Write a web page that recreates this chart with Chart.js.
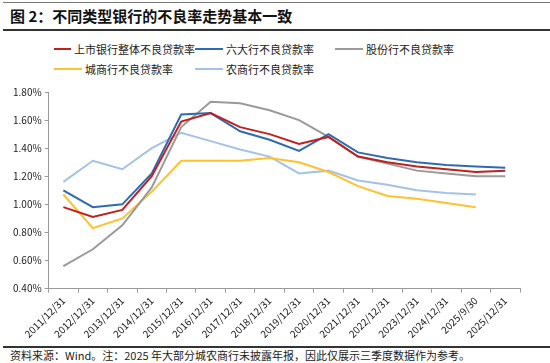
<!DOCTYPE html>
<html>
<head>
<meta charset="utf-8">
<script src="https://cdn.jsdelivr.net/npm/chart.js@4"></script>
<style>
  body { margin: 0; width: 550px; height: 363px; background: #fff; position: relative; overflow: hidden;
         font-family: "Noto Sans CJK SC", "Noto Sans", sans-serif; color: #222; }
  .topline { position: absolute; left: 3px; right: 0; top: 2px; border-top: 1px solid #777; }
  .title { position: absolute; left: 10px; top: 5px; font-size: 15px; font-weight: bold; color: #111; }
  .titleline { position: absolute; left: 3px; right: 0; top: 29px; border-top: 2px solid #333; }
  #legend { position: absolute; left: 54px; top: 40px; display: grid; grid-template-columns: 141px 140px 160px;
            row-gap: 3px; font-size: 11px; }
  #legend div { display: flex; align-items: center; height: 17px; white-space: nowrap; }
  #legend span.sw { display: inline-block; width: 28px; height: 2px; margin-right: 3px; }
  .wrap { position: absolute; left: 0; top: 80px; width: 550px; height: 262px; }
  .bottomline { position: absolute; left: 3px; right: 0; top: 346px; border-top: 2px solid #333; }
  .note { position: absolute; left: 10px; top: 347px; font-size: 11px; color: #222; }
</style>
</head>
<body>
<div class="topline"></div>
<div class="title">图 2：不同类型银行的不良率走势基本一致</div>
<div class="titleline"></div>
<div id="legend"></div>
<div class="wrap"><canvas id="chart"></canvas></div>
<div class="bottomline"></div>
<div class="note">资料来源：Wind。注：2025 年大部分城农商行未披露年报，因此仅展示三季度数据作为参考。</div>
<script>
const periods = ['2011/12/31', '2012/12/31', '2013/12/31', '2014/12/31', '2015/12/31', '2016/12/31',
  '2017/12/31', '2018/12/31', '2019/12/31', '2020/12/31', '2021/12/31', '2022/12/31', '2023/12/31',
  '2024/12/31', '2025/9/30', '2025/12/31'];

const listedBanks = [0.98, 0.91, 0.96, 1.20, 1.59, 1.65, 1.55, 1.50, 1.43, 1.48, 1.34, 1.30, 1.27, 1.25, 1.23, 1.24];
const bigSix = [1.10, 0.98, 1.00, 1.22, 1.64, 1.65, 1.52, 1.46, 1.38, 1.50, 1.37, 1.33, 1.30, 1.28, 1.27, 1.26];
const jointStock = [0.56, 0.68, 0.85, 1.12, 1.55, 1.73, 1.72, 1.67, 1.60, 1.48, 1.34, 1.29, 1.24, 1.22, 1.20, 1.20];
const cityBanks = [1.07, 0.83, 0.90, 1.09, 1.31, 1.31, 1.31, 1.33, 1.30, 1.23, 1.13, 1.06, 1.04, 1.01, 0.98, null];
const ruralBanks = [1.16, 1.31, 1.25, 1.40, 1.51, 1.45, 1.39, 1.34, 1.22, 1.24, 1.17, 1.14, 1.10, 1.08, 1.07, null];

const yTicks = [0.4, 0.6, 0.8, 1.0, 1.2, 1.4, 1.6, 1.8];

const series = [
  { label: '上市银行整体不良贷款率', data: listedBanks, color: '#C0201E' },
  { label: '六大行不良贷款率', data: bigSix, color: '#2E6BB5' },
  { label: '股份行不良贷款率', data: jointStock, color: '#9A9A9A' },
  { label: '城商行不良贷款率', data: cityBanks, color: '#FFC12E' },
  { label: '农商行不良贷款率', data: ruralBanks, color: '#A3C2E8' }
];

const tickFont = { family: '"Noto Sans CJK SC", sans-serif', size: 10 };

const chart = new Chart(document.getElementById('chart'), {
  type: 'line',
  data: {
    labels: periods,
    datasets: series.map(s => ({
      label: s.label,
      data: s.data,
      borderColor: s.color,
      backgroundColor: s.color,
      borderWidth: 2,
      pointRadius: 0,
      tension: 0,
      spanGaps: false
    }))
  },
  options: {
    responsive: true,
    maintainAspectRatio: false,
    animation: false,
    layout: { padding: { top: 12, right: 30, left: 10, bottom: 0 } },
    plugins: { legend: { display: false }, tooltip: { enabled: false } },
    scales: {
      x: {
        offset: true,
        grid: { offset: true, drawOnChartArea: false, drawTicks: true, tickLength: 4, color: '#9a9a9a' },
        border: { color: '#9a9a9a', width: 1 },
        ticks: { autoSkip: false, maxRotation: 45, minRotation: 45, font: tickFont, color: '#222', padding: 2 }
      },
      y: {
        min: 0.4,
        max: 1.8,
        afterBuildTicks: axis => { axis.ticks = yTicks.map(v => ({ value: v })); },
        grid: { drawOnChartArea: false, drawTicks: true, tickLength: 4, color: '#9a9a9a' },
        border: { color: '#9a9a9a', width: 1 },
        ticks: { font: tickFont, color: '#222', padding: 3, callback: v => v.toFixed(2) + '%' }
      }
    }
  }
});

// legend as a three-column grid like the original
const legend = document.getElementById('legend');
chart.data.datasets.forEach(ds => {
  const item = document.createElement('div');
  item.innerHTML = '<span class="sw" style="background:' + ds.borderColor + '"></span>' + ds.label;
  legend.appendChild(item);
});
</script>
</body>
</html>
